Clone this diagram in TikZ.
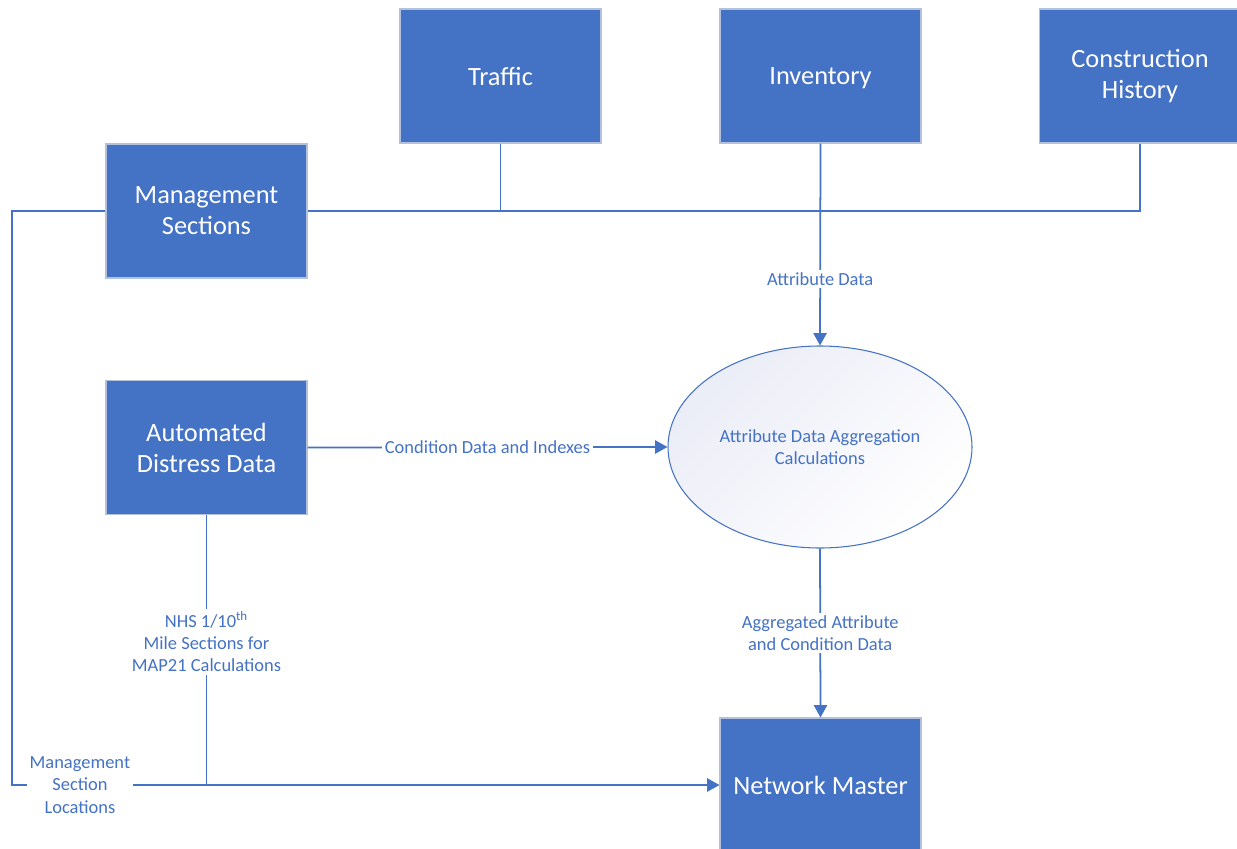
\documentclass[tikz,border=0pt]{standalone}
\usepackage{fontspec}
\setmainfont{Carlito}
\usetikzlibrary{arrows.meta,shapes.geometric}
\definecolor{flowblue}{HTML}{4472C4}
\definecolor{boxedge}{HTML}{B4C1DC}
\definecolor{ellshade}{HTML}{EBEDF7}
\newcommand{\nodepth}[1]{\raisebox{0pt}[\height][0pt]{#1}}
\tikzset{
  block/.style={rectangle,fill=flowblue,draw=boxedge,line width=0.6pt,text=white,
    minimum width=4.02cm,minimum height=2.68cm,inner sep=0pt,align=center,
    font=\fontsize{15}{17.6}\selectfont},
  link/.style={draw=flowblue,line width=0.9pt},
  flow/.style={link,line width=1pt,-{Triangle[length=7pt,width=7.5pt]}},
  lbl/.style={fill=white,text=flowblue,inner sep=1.5pt,align=center,
    font=\fontsize{10.5}{12.6}\selectfont},
}
\begin{document}
\begin{tikzpicture}
  \useasboundingbox (0,0) rectangle (24.74,16.96);
  % sources
  \node[block] (traffic) at (10.01,15.44) {Traffic};
  \node[block] (inventory) at (16.41,15.44) {\nodepth{Inventory}};
  \node[block] (history) at (22.80,15.44) {Construction\\History};
  \node[block] (mgmt) at (4.13,12.74) {Management\\Sections};
  \node[block] (distress) at (4.13,8.01) {Automated\\Distress Data};
  \node[block] (master) at (16.41,1.26) {Network Master};
  \node[ellipse,draw=flowblue,line width=0.6pt,shading=axis,top color=ellshade,
    bottom color=white,shading angle=45,minimum width=6.08cm,minimum height=4.04cm,
    text=flowblue,align=center,font=\fontsize{10.5}{12.6}\selectfont]
    (aggcalc) at (16.40,8.02) {Attribute Data Aggregation\\Calculations};

  % attribute bus
  \draw[link] (mgmt.east) -| (history.south);
  \draw[link] (traffic.south) -- (traffic.south |- mgmt.east);
  \draw[flow] (inventory.south) -- node[lbl,pos=0.67] {Attribute Data} (aggcalc.north);

  \draw[flow] (distress.east) -- node[lbl] {Condition Data and Indexes} (aggcalc.west);
  \draw[flow] (aggcalc.south) -- node[lbl] {Aggregated Attribute\\and Condition Data} (master.north);

  % section locations
  \coordinate (bend) at (0.24,12.74);
  \draw[flow] (mgmt.west) -- (bend) |- node[lbl,pos=0.548] {Management\\Section\\Locations} (master.west);
  \draw[link] (distress.south) -- node[lbl,pos=0.47] {NHS 1/10\textsuperscript{th}\\Mile Sections for\\MAP21 Calculations} (distress.south |- master.west);
\end{tikzpicture}
\end{document}
